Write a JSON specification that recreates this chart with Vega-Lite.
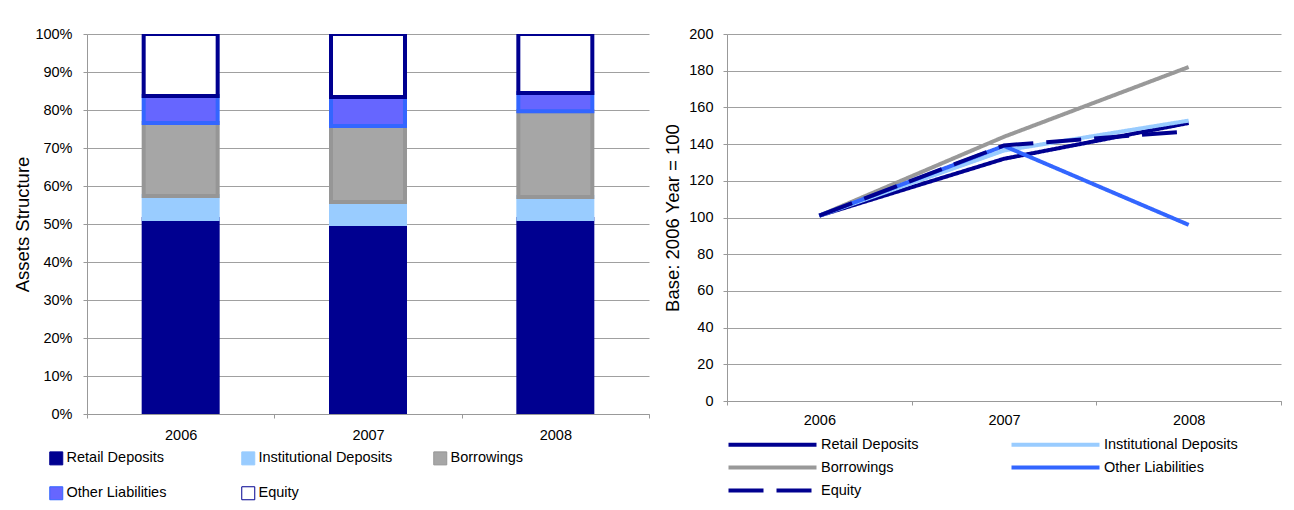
{
  "$schema": "https://vega.github.io/schema/vega-lite/v6.json",
  "background": "white",
  "padding": {"left": 13, "top": 26, "right": 5, "bottom": 5},
  "autosize": {"type": "pad"},
  "config": {
    "font": "Liberation Sans",
    "view": {"stroke": null},
    "axis": {
      "labelFont": "Liberation Sans", "labelFontSize": 14.5, "labelColor": "#000000",
      "titleFont": "Liberation Sans", "titleFontSize": 18.5, "titleFontWeight": "normal", "titleColor": "#000000",
      "domainColor": "#999999", "tickColor": "#999999", "gridColor": "#a0a0a0", "gridOpacity": 1,
      "tickSize": 4, "labelPadding": 10
    },
    "legend": {"labelFont": "Liberation Sans", "labelFontSize": 14.5, "labelColor": "#000000", "padding": 0, "labelLimit": 300},
    "concat": {"spacing": 13}
  },
  "resolve": {
    "scale": {"color": "independent", "fill": "independent", "stroke": "independent", "strokeDash": "independent"},
    "legend": {"color": "independent", "fill": "independent", "stroke": "independent", "strokeDash": "independent"}
  },
  "hconcat": [
    {
      "width": 562,
      "height": 380,
      "data": {"values": [
        {"year": "2006", "item": "Retail Deposits", "share": 51.3},
        {"year": "2006", "item": "Institutional Deposits", "share": 6.1},
        {"year": "2006", "item": "Borrowings", "share": 19.2},
        {"year": "2006", "item": "Other Liabilities", "share": 7.1},
        {"year": "2006", "item": "Equity", "share": 16.3},
        {"year": "2007", "item": "Retail Deposits", "share": 50.0},
        {"year": "2007", "item": "Institutional Deposits", "share": 5.8},
        {"year": "2007", "item": "Borrowings", "share": 20.0},
        {"year": "2007", "item": "Other Liabilities", "share": 7.6},
        {"year": "2007", "item": "Equity", "share": 16.6},
        {"year": "2008", "item": "Retail Deposits", "share": 51.3},
        {"year": "2008", "item": "Institutional Deposits", "share": 5.8},
        {"year": "2008", "item": "Borrowings", "share": 22.6},
        {"year": "2008", "item": "Other Liabilities", "share": 4.8},
        {"year": "2008", "item": "Equity", "share": 15.5}
      ]},
      "transform": [
        {"calculate": "indexof(['Retail Deposits', 'Institutional Deposits', 'Borrowings', 'Other Liabilities', 'Equity'], datum.item)", "as": "stackOrder"}
      ],
      "mark": {"type": "bar", "strokeWidth": 4, "width": {"band": 0.395}, "clip": true},
      "encoding": {
        "x": {
          "field": "year", "type": "ordinal",
          "scale": {"paddingInner": 0, "paddingOuter": 0},
          "axis": {"title": null, "labelAngle": 0, "tickBand": "extent", "labelPadding": 10}
        },
        "y": {
          "field": "share", "type": "quantitative", "stack": "zero",
          "scale": {"domain": [0, 100], "nice": false},
          "axis": {
            "title": "Assets Structure",
            "values": [0, 10, 20, 30, 40, 50, 60, 70, 80, 90, 100],
            "labelExpr": "datum.value + '%'",
            "grid": true, "labelPadding": 11, "titlePadding": 2
          }
        },
        "order": {"field": "stackOrder", "type": "quantitative", "sort": "ascending"},
        "fill": {
          "field": "item", "type": "nominal",
          "scale": {
            "domain": ["Retail Deposits", "Institutional Deposits", "Borrowings", "Other Liabilities", "Equity"],
            "range": ["#000090", "#99ccff", "#a6a6a6", "#6666ff", "#ffffff"]
          },
          "legend": {
            "title": null, "orient": "none", "legendX": -38, "legendY": 417,
            "direction": "horizontal", "columns": 3, "gridAlign": "all",
            "columnPadding": 38, "rowPadding": 17,
            "symbolType": "square", "symbolSize": 169, "symbolStrokeWidth": 1, "labelOffset": 3
          }
        },
        "stroke": {
          "field": "item", "type": "nominal",
          "scale": {
            "domain": ["Retail Deposits", "Institutional Deposits", "Borrowings", "Other Liabilities", "Equity"],
            "range": ["#000090", "#99ccff", "#969696", "#3366ff", "#000090"]
          },
          "legend": {
            "title": null, "orient": "none", "legendX": -38, "legendY": 417,
            "direction": "horizontal", "columns": 3, "gridAlign": "all",
            "columnPadding": 38, "rowPadding": 17,
            "symbolType": "square", "symbolSize": 169, "symbolStrokeWidth": 1, "labelOffset": 3
          }
        }
      }
    },
    {
      "width": 554,
      "height": 367,
      "data": {"values": [
        {"year": "2006", "item": "Retail Deposits", "index": 101},
        {"year": "2007", "item": "Retail Deposits", "index": 132},
        {"year": "2008", "item": "Retail Deposits", "index": 151.5},
        {"year": "2006", "item": "Institutional Deposits", "index": 101},
        {"year": "2007", "item": "Institutional Deposits", "index": 136.5},
        {"year": "2008", "item": "Institutional Deposits", "index": 152.8},
        {"year": "2006", "item": "Borrowings", "index": 101},
        {"year": "2007", "item": "Borrowings", "index": 144},
        {"year": "2008", "item": "Borrowings", "index": 182},
        {"year": "2006", "item": "Other Liabilities", "index": 101},
        {"year": "2007", "item": "Other Liabilities", "index": 139},
        {"year": "2008", "item": "Other Liabilities", "index": 96},
        {"year": "2006", "item": "Equity", "index": 101},
        {"year": "2007", "item": "Equity", "index": 139.3},
        {"year": "2008", "item": "Equity", "index": 147}
      ]},
      "mark": {"type": "line", "strokeWidth": 4},
      "encoding": {
        "x": {
          "field": "year", "type": "ordinal",
          "scale": {"type": "band", "paddingInner": 0, "paddingOuter": 0},
          "bandPosition": 0.5,
          "axis": {"title": null, "labelAngle": 0, "tickBand": "extent", "labelPadding": 8}
        },
        "y": {
          "field": "index", "type": "quantitative",
          "scale": {"domain": [0, 200], "nice": false},
          "axis": {
            "title": "Base: 2006 Year = 100",
            "values": [0, 20, 40, 60, 80, 100, 120, 140, 160, 180, 200],
            "grid": true, "labelPadding": 10, "titlePadding": 6
          }
        },
        "color": {
          "field": "item", "type": "nominal",
          "scale": {
            "domain": ["Retail Deposits", "Institutional Deposits", "Borrowings", "Other Liabilities", "Equity"],
            "range": ["#000090", "#99ccff", "#999999", "#3366ff", "#000090"]
          },
          "legend": {
            "title": null, "orient": "none", "legendX": -6, "legendY": 403,
            "direction": "horizontal", "columns": 2, "gridAlign": "all",
            "columnPadding": 48, "rowPadding": 6,
            "symbolType": "M0,0H16", "symbolSize": 121, "symbolStrokeWidth": 4, "labelOffset": 85
          }
        },
        "strokeDash": {
          "field": "item", "type": "nominal",
          "scale": {
            "domain": ["Retail Deposits", "Institutional Deposits", "Borrowings", "Other Liabilities", "Equity"],
            "range": [[1, 0], [1, 0], [1, 0], [1, 0], [35, 13]]
          },
          "legend": {
            "title": null, "orient": "none", "legendX": -6, "legendY": 403,
            "direction": "horizontal", "columns": 2, "gridAlign": "all",
            "columnPadding": 48, "rowPadding": 6,
            "symbolType": "M0,0H16", "symbolSize": 121, "symbolStrokeWidth": 4, "labelOffset": 85
          }
        }
      }
    }
  ]
}
